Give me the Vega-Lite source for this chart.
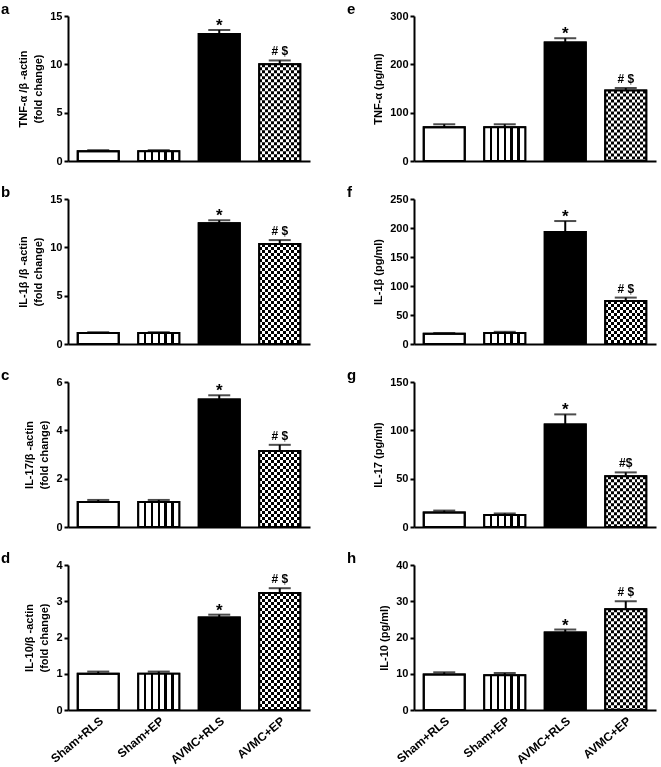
{
"$schema": "https://vega.github.io/schema/vega-lite/v6.json",
"padding": {"left": 1, "top": 2, "right": 5, "bottom": 0},
"background": "white",
"bounds": "flush",
"columns": 2,
"spacing": {"row": 38, "column": 104},
"config": {
  "font": "Liberation Sans",
  "view": {"stroke": null},
  "axis": {"domainColor": "black", "domainWidth": 2, "tickColor": "black", "tickWidth": 2, "tickSize": 4, "labelColor": "black", "labelFontSize": 11, "labelFontWeight": "bold", "titleColor": "black", "titleFontSize": 11, "titleFontWeight": "bold", "grid": false, "titlePadding": 6, "labelPadding": 2, "titleLineHeight": 15},
  "text": {"color": "black"},
  "title": {"color": "black", "font": "Liberation Sans"}
},
"concat": [
{
 "title": {"text": "a", "anchor": "start", "frame": "group", "dx": -67, "offset": -7, "fontSize": 15, "fontWeight": "bold"},
 "width": 242, "height": 145,
 "data": {"values": [
   {"group": "Sham+RLS", "value": 1.0, "hi": 1.12, "label": ""},
   {"group": "Sham+EP", "value": 1.0, "hi": 1.12, "label": ""},
   {"group": "AVMC+RLS", "value": 13.15, "hi": 13.55, "label": "*"},
   {"group": "AVMC+EP", "value": 10.0, "hi": 10.4, "label": "# $"}]},
 "encoding": {
   "x": {"field": "group", "type": "nominal", "sort": null, "scale": {"paddingInner": 0.32, "paddingOuter": 0.16}, "axis": {"labels": false, "ticks": false, "title": null}},
   "y": {"field": "value", "type": "quantitative", "scale": {"domain": [0, 15], "nice": false}, "axis": {"values": [0, 5, 10, 15], "title": ["TNF-α /β -actin", "(fold change)"]}}},
 "layer": [
   {"mark": {"type": "bar", "size": 41, "stroke": "black", "strokeWidth": 2}, "encoding": {"fill": {"condition": {"test": "datum.group==='AVMC+RLS'", "value": "black"}, "value": "white"}}},
   {"transform": [{"filter": "datum.group==='Sham+EP'"}], "mark": {"type": "bar", "size": 41, "fill": {"gradient": "linear", "x1": 0, "y1": 0, "x2": 1, "y2": 0, "stops": [{"offset": 0, "color": "white"}, {"offset": 0.137, "color": "white"}, {"offset": 0.137, "color": "black"}, {"offset": 0.197, "color": "black"}, {"offset": 0.197, "color": "white"}, {"offset": 0.303, "color": "white"}, {"offset": 0.303, "color": "black"}, {"offset": 0.363, "color": "black"}, {"offset": 0.363, "color": "white"}, {"offset": 0.47, "color": "white"}, {"offset": 0.47, "color": "black"}, {"offset": 0.53, "color": "black"}, {"offset": 0.53, "color": "white"}, {"offset": 0.637, "color": "white"}, {"offset": 0.637, "color": "black"}, {"offset": 0.697, "color": "black"}, {"offset": 0.697, "color": "white"}, {"offset": 0.803, "color": "white"}, {"offset": 0.803, "color": "black"}, {"offset": 0.863, "color": "black"}, {"offset": 0.863, "color": "white"}, {"offset": 1, "color": "white"}]}}},
   {"transform": [{"filter": "datum.group==='AVMC+EP'"}], "mark": {"type": "bar", "size": 41, "fill": {"gradient": "linear", "x1": 0, "y1": 0, "x2": 1, "y2": 0, "stops": [{"offset": 0, "color": "black"}, {"offset": 0.0714, "color": "black"}, {"offset": 0.0714, "color": "white"}, {"offset": 0.1429, "color": "white"}, {"offset": 0.1429, "color": "black"}, {"offset": 0.2143, "color": "black"}, {"offset": 0.2143, "color": "white"}, {"offset": 0.2857, "color": "white"}, {"offset": 0.2857, "color": "black"}, {"offset": 0.3571, "color": "black"}, {"offset": 0.3571, "color": "white"}, {"offset": 0.4286, "color": "white"}, {"offset": 0.4286, "color": "black"}, {"offset": 0.5, "color": "black"}, {"offset": 0.5, "color": "white"}, {"offset": 0.5714, "color": "white"}, {"offset": 0.5714, "color": "black"}, {"offset": 0.6429, "color": "black"}, {"offset": 0.6429, "color": "white"}, {"offset": 0.7143, "color": "white"}, {"offset": 0.7143, "color": "black"}, {"offset": 0.7857, "color": "black"}, {"offset": 0.7857, "color": "white"}, {"offset": 0.8571, "color": "white"}, {"offset": 0.8571, "color": "black"}, {"offset": 0.9286, "color": "black"}, {"offset": 0.9286, "color": "white"}, {"offset": 1, "color": "white"}]}}},
   {"transform": [{"filter": "datum.group==='AVMC+EP'"}], "mark": {"type": "rule", "strokeWidth": 41, "strokeDash": [3, 3], "color": "white", "blend": "difference"}, "encoding": {"y2": {"datum": 0}}},
   {"mark": {"type": "bar", "size": 41, "fillOpacity": 0, "stroke": "black", "strokeWidth": 2}},
   {"mark": {"type": "rule", "strokeWidth": 2, "color": "black"}, "encoding": {"y2": {"field": "hi"}}},
   {"mark": {"type": "tick", "orient": "horizontal", "size": 22, "thickness": 2, "color": "black"}, "encoding": {"y": {"field": "hi", "type": "quantitative", "scale": {"domain": [0, 15], "nice": false}}}},
   {"transform": [{"filter": "datum.label==='*'"}], "mark": {"type": "text", "fontSize": 17, "fontWeight": "bold", "baseline": "alphabetic", "dy": 1}, "encoding": {"y": {"field": "hi", "type": "quantitative", "scale": {"domain": [0, 15], "nice": false}}, "text": {"field": "label"}}},
   {"transform": [{"filter": "datum.label!=='*' && datum.label!==''"}], "mark": {"type": "text", "fontSize": 12, "fontWeight": "bold", "baseline": "alphabetic", "dy": -5}, "encoding": {"y": {"field": "hi", "type": "quantitative", "scale": {"domain": [0, 15], "nice": false}}, "text": {"field": "label"}}}
 ]
},
{
 "title": {"text": "e", "anchor": "start", "frame": "group", "dx": -67, "offset": -7, "fontSize": 15, "fontWeight": "bold"},
 "width": 242, "height": 145,
 "data": {"values": [
   {"group": "Sham+RLS", "value": 70, "hi": 76, "label": ""},
   {"group": "Sham+EP", "value": 70, "hi": 76, "label": ""},
   {"group": "AVMC+RLS", "value": 245, "hi": 254, "label": "*"},
   {"group": "AVMC+EP", "value": 146, "hi": 151, "label": "# $"}]},
 "encoding": {
   "x": {"field": "group", "type": "nominal", "sort": null, "scale": {"paddingInner": 0.32, "paddingOuter": 0.16}, "axis": {"labels": false, "ticks": false, "title": null}},
   "y": {"field": "value", "type": "quantitative", "scale": {"domain": [0, 300], "nice": false}, "axis": {"values": [0, 100, 200, 300], "title": "TNF-α  (pg/ml)"}}},
 "layer": [
   {"mark": {"type": "bar", "size": 41, "stroke": "black", "strokeWidth": 2}, "encoding": {"fill": {"condition": {"test": "datum.group==='AVMC+RLS'", "value": "black"}, "value": "white"}}},
   {"transform": [{"filter": "datum.group==='Sham+EP'"}], "mark": {"type": "bar", "size": 41, "fill": {"gradient": "linear", "x1": 0, "y1": 0, "x2": 1, "y2": 0, "stops": [{"offset": 0, "color": "white"}, {"offset": 0.137, "color": "white"}, {"offset": 0.137, "color": "black"}, {"offset": 0.197, "color": "black"}, {"offset": 0.197, "color": "white"}, {"offset": 0.303, "color": "white"}, {"offset": 0.303, "color": "black"}, {"offset": 0.363, "color": "black"}, {"offset": 0.363, "color": "white"}, {"offset": 0.47, "color": "white"}, {"offset": 0.47, "color": "black"}, {"offset": 0.53, "color": "black"}, {"offset": 0.53, "color": "white"}, {"offset": 0.637, "color": "white"}, {"offset": 0.637, "color": "black"}, {"offset": 0.697, "color": "black"}, {"offset": 0.697, "color": "white"}, {"offset": 0.803, "color": "white"}, {"offset": 0.803, "color": "black"}, {"offset": 0.863, "color": "black"}, {"offset": 0.863, "color": "white"}, {"offset": 1, "color": "white"}]}}},
   {"transform": [{"filter": "datum.group==='AVMC+EP'"}], "mark": {"type": "bar", "size": 41, "fill": {"gradient": "linear", "x1": 0, "y1": 0, "x2": 1, "y2": 0, "stops": [{"offset": 0, "color": "black"}, {"offset": 0.0714, "color": "black"}, {"offset": 0.0714, "color": "white"}, {"offset": 0.1429, "color": "white"}, {"offset": 0.1429, "color": "black"}, {"offset": 0.2143, "color": "black"}, {"offset": 0.2143, "color": "white"}, {"offset": 0.2857, "color": "white"}, {"offset": 0.2857, "color": "black"}, {"offset": 0.3571, "color": "black"}, {"offset": 0.3571, "color": "white"}, {"offset": 0.4286, "color": "white"}, {"offset": 0.4286, "color": "black"}, {"offset": 0.5, "color": "black"}, {"offset": 0.5, "color": "white"}, {"offset": 0.5714, "color": "white"}, {"offset": 0.5714, "color": "black"}, {"offset": 0.6429, "color": "black"}, {"offset": 0.6429, "color": "white"}, {"offset": 0.7143, "color": "white"}, {"offset": 0.7143, "color": "black"}, {"offset": 0.7857, "color": "black"}, {"offset": 0.7857, "color": "white"}, {"offset": 0.8571, "color": "white"}, {"offset": 0.8571, "color": "black"}, {"offset": 0.9286, "color": "black"}, {"offset": 0.9286, "color": "white"}, {"offset": 1, "color": "white"}]}}},
   {"transform": [{"filter": "datum.group==='AVMC+EP'"}], "mark": {"type": "rule", "strokeWidth": 41, "strokeDash": [3, 3], "color": "white", "blend": "difference"}, "encoding": {"y2": {"datum": 0}}},
   {"mark": {"type": "bar", "size": 41, "fillOpacity": 0, "stroke": "black", "strokeWidth": 2}},
   {"mark": {"type": "rule", "strokeWidth": 2, "color": "black"}, "encoding": {"y2": {"field": "hi"}}},
   {"mark": {"type": "tick", "orient": "horizontal", "size": 22, "thickness": 2, "color": "black"}, "encoding": {"y": {"field": "hi", "type": "quantitative", "scale": {"domain": [0, 300], "nice": false}}}},
   {"transform": [{"filter": "datum.label==='*'"}], "mark": {"type": "text", "fontSize": 17, "fontWeight": "bold", "baseline": "alphabetic", "dy": 1}, "encoding": {"y": {"field": "hi", "type": "quantitative", "scale": {"domain": [0, 300], "nice": false}}, "text": {"field": "label"}}},
   {"transform": [{"filter": "datum.label!=='*' && datum.label!==''"}], "mark": {"type": "text", "fontSize": 12, "fontWeight": "bold", "baseline": "alphabetic", "dy": -5}, "encoding": {"y": {"field": "hi", "type": "quantitative", "scale": {"domain": [0, 300], "nice": false}}, "text": {"field": "label"}}}
 ]
},
{
 "title": {"text": "b", "anchor": "start", "frame": "group", "dx": -67, "offset": -7, "fontSize": 15, "fontWeight": "bold"},
 "width": 242, "height": 145,
 "data": {"values": [
   {"group": "Sham+RLS", "value": 1.15, "hi": 1.22, "label": ""},
   {"group": "Sham+EP", "value": 1.15, "hi": 1.22, "label": ""},
   {"group": "AVMC+RLS", "value": 12.5, "hi": 12.8, "label": "*"},
   {"group": "AVMC+EP", "value": 10.35, "hi": 10.75, "label": "# $"}]},
 "encoding": {
   "x": {"field": "group", "type": "nominal", "sort": null, "scale": {"paddingInner": 0.32, "paddingOuter": 0.16}, "axis": {"labels": false, "ticks": false, "title": null}},
   "y": {"field": "value", "type": "quantitative", "scale": {"domain": [0, 15], "nice": false}, "axis": {"values": [0, 5, 10, 15], "title": ["IL-1β /β -actin", "(fold change)"]}}},
 "layer": [
   {"mark": {"type": "bar", "size": 41, "stroke": "black", "strokeWidth": 2}, "encoding": {"fill": {"condition": {"test": "datum.group==='AVMC+RLS'", "value": "black"}, "value": "white"}}},
   {"transform": [{"filter": "datum.group==='Sham+EP'"}], "mark": {"type": "bar", "size": 41, "fill": {"gradient": "linear", "x1": 0, "y1": 0, "x2": 1, "y2": 0, "stops": [{"offset": 0, "color": "white"}, {"offset": 0.137, "color": "white"}, {"offset": 0.137, "color": "black"}, {"offset": 0.197, "color": "black"}, {"offset": 0.197, "color": "white"}, {"offset": 0.303, "color": "white"}, {"offset": 0.303, "color": "black"}, {"offset": 0.363, "color": "black"}, {"offset": 0.363, "color": "white"}, {"offset": 0.47, "color": "white"}, {"offset": 0.47, "color": "black"}, {"offset": 0.53, "color": "black"}, {"offset": 0.53, "color": "white"}, {"offset": 0.637, "color": "white"}, {"offset": 0.637, "color": "black"}, {"offset": 0.697, "color": "black"}, {"offset": 0.697, "color": "white"}, {"offset": 0.803, "color": "white"}, {"offset": 0.803, "color": "black"}, {"offset": 0.863, "color": "black"}, {"offset": 0.863, "color": "white"}, {"offset": 1, "color": "white"}]}}},
   {"transform": [{"filter": "datum.group==='AVMC+EP'"}], "mark": {"type": "bar", "size": 41, "fill": {"gradient": "linear", "x1": 0, "y1": 0, "x2": 1, "y2": 0, "stops": [{"offset": 0, "color": "black"}, {"offset": 0.0714, "color": "black"}, {"offset": 0.0714, "color": "white"}, {"offset": 0.1429, "color": "white"}, {"offset": 0.1429, "color": "black"}, {"offset": 0.2143, "color": "black"}, {"offset": 0.2143, "color": "white"}, {"offset": 0.2857, "color": "white"}, {"offset": 0.2857, "color": "black"}, {"offset": 0.3571, "color": "black"}, {"offset": 0.3571, "color": "white"}, {"offset": 0.4286, "color": "white"}, {"offset": 0.4286, "color": "black"}, {"offset": 0.5, "color": "black"}, {"offset": 0.5, "color": "white"}, {"offset": 0.5714, "color": "white"}, {"offset": 0.5714, "color": "black"}, {"offset": 0.6429, "color": "black"}, {"offset": 0.6429, "color": "white"}, {"offset": 0.7143, "color": "white"}, {"offset": 0.7143, "color": "black"}, {"offset": 0.7857, "color": "black"}, {"offset": 0.7857, "color": "white"}, {"offset": 0.8571, "color": "white"}, {"offset": 0.8571, "color": "black"}, {"offset": 0.9286, "color": "black"}, {"offset": 0.9286, "color": "white"}, {"offset": 1, "color": "white"}]}}},
   {"transform": [{"filter": "datum.group==='AVMC+EP'"}], "mark": {"type": "rule", "strokeWidth": 41, "strokeDash": [3, 3], "color": "white", "blend": "difference"}, "encoding": {"y2": {"datum": 0}}},
   {"mark": {"type": "bar", "size": 41, "fillOpacity": 0, "stroke": "black", "strokeWidth": 2}},
   {"mark": {"type": "rule", "strokeWidth": 2, "color": "black"}, "encoding": {"y2": {"field": "hi"}}},
   {"mark": {"type": "tick", "orient": "horizontal", "size": 22, "thickness": 2, "color": "black"}, "encoding": {"y": {"field": "hi", "type": "quantitative", "scale": {"domain": [0, 15], "nice": false}}}},
   {"transform": [{"filter": "datum.label==='*'"}], "mark": {"type": "text", "fontSize": 17, "fontWeight": "bold", "baseline": "alphabetic", "dy": 1}, "encoding": {"y": {"field": "hi", "type": "quantitative", "scale": {"domain": [0, 15], "nice": false}}, "text": {"field": "label"}}},
   {"transform": [{"filter": "datum.label!=='*' && datum.label!==''"}], "mark": {"type": "text", "fontSize": 12, "fontWeight": "bold", "baseline": "alphabetic", "dy": -5}, "encoding": {"y": {"field": "hi", "type": "quantitative", "scale": {"domain": [0, 15], "nice": false}}, "text": {"field": "label"}}}
 ]
},
{
 "title": {"text": "f", "anchor": "start", "frame": "group", "dx": -67, "offset": -7, "fontSize": 15, "fontWeight": "bold"},
 "width": 242, "height": 145,
 "data": {"values": [
   {"group": "Sham+RLS", "value": 17.5, "hi": 19, "label": ""},
   {"group": "Sham+EP", "value": 19, "hi": 21, "label": ""},
   {"group": "AVMC+RLS", "value": 193, "hi": 212, "label": "*"},
   {"group": "AVMC+EP", "value": 74, "hi": 80, "label": "# $"}]},
 "encoding": {
   "x": {"field": "group", "type": "nominal", "sort": null, "scale": {"paddingInner": 0.32, "paddingOuter": 0.16}, "axis": {"labels": false, "ticks": false, "title": null}},
   "y": {"field": "value", "type": "quantitative", "scale": {"domain": [0, 250], "nice": false}, "axis": {"values": [0, 50, 100, 150, 200, 250], "title": "IL-1β  (pg/ml)"}}},
 "layer": [
   {"mark": {"type": "bar", "size": 41, "stroke": "black", "strokeWidth": 2}, "encoding": {"fill": {"condition": {"test": "datum.group==='AVMC+RLS'", "value": "black"}, "value": "white"}}},
   {"transform": [{"filter": "datum.group==='Sham+EP'"}], "mark": {"type": "bar", "size": 41, "fill": {"gradient": "linear", "x1": 0, "y1": 0, "x2": 1, "y2": 0, "stops": [{"offset": 0, "color": "white"}, {"offset": 0.137, "color": "white"}, {"offset": 0.137, "color": "black"}, {"offset": 0.197, "color": "black"}, {"offset": 0.197, "color": "white"}, {"offset": 0.303, "color": "white"}, {"offset": 0.303, "color": "black"}, {"offset": 0.363, "color": "black"}, {"offset": 0.363, "color": "white"}, {"offset": 0.47, "color": "white"}, {"offset": 0.47, "color": "black"}, {"offset": 0.53, "color": "black"}, {"offset": 0.53, "color": "white"}, {"offset": 0.637, "color": "white"}, {"offset": 0.637, "color": "black"}, {"offset": 0.697, "color": "black"}, {"offset": 0.697, "color": "white"}, {"offset": 0.803, "color": "white"}, {"offset": 0.803, "color": "black"}, {"offset": 0.863, "color": "black"}, {"offset": 0.863, "color": "white"}, {"offset": 1, "color": "white"}]}}},
   {"transform": [{"filter": "datum.group==='AVMC+EP'"}], "mark": {"type": "bar", "size": 41, "fill": {"gradient": "linear", "x1": 0, "y1": 0, "x2": 1, "y2": 0, "stops": [{"offset": 0, "color": "black"}, {"offset": 0.0714, "color": "black"}, {"offset": 0.0714, "color": "white"}, {"offset": 0.1429, "color": "white"}, {"offset": 0.1429, "color": "black"}, {"offset": 0.2143, "color": "black"}, {"offset": 0.2143, "color": "white"}, {"offset": 0.2857, "color": "white"}, {"offset": 0.2857, "color": "black"}, {"offset": 0.3571, "color": "black"}, {"offset": 0.3571, "color": "white"}, {"offset": 0.4286, "color": "white"}, {"offset": 0.4286, "color": "black"}, {"offset": 0.5, "color": "black"}, {"offset": 0.5, "color": "white"}, {"offset": 0.5714, "color": "white"}, {"offset": 0.5714, "color": "black"}, {"offset": 0.6429, "color": "black"}, {"offset": 0.6429, "color": "white"}, {"offset": 0.7143, "color": "white"}, {"offset": 0.7143, "color": "black"}, {"offset": 0.7857, "color": "black"}, {"offset": 0.7857, "color": "white"}, {"offset": 0.8571, "color": "white"}, {"offset": 0.8571, "color": "black"}, {"offset": 0.9286, "color": "black"}, {"offset": 0.9286, "color": "white"}, {"offset": 1, "color": "white"}]}}},
   {"transform": [{"filter": "datum.group==='AVMC+EP'"}], "mark": {"type": "rule", "strokeWidth": 41, "strokeDash": [3, 3], "color": "white", "blend": "difference"}, "encoding": {"y2": {"datum": 0}}},
   {"mark": {"type": "bar", "size": 41, "fillOpacity": 0, "stroke": "black", "strokeWidth": 2}},
   {"mark": {"type": "rule", "strokeWidth": 2, "color": "black"}, "encoding": {"y2": {"field": "hi"}}},
   {"mark": {"type": "tick", "orient": "horizontal", "size": 22, "thickness": 2, "color": "black"}, "encoding": {"y": {"field": "hi", "type": "quantitative", "scale": {"domain": [0, 250], "nice": false}}}},
   {"transform": [{"filter": "datum.label==='*'"}], "mark": {"type": "text", "fontSize": 17, "fontWeight": "bold", "baseline": "alphabetic", "dy": 1}, "encoding": {"y": {"field": "hi", "type": "quantitative", "scale": {"domain": [0, 250], "nice": false}}, "text": {"field": "label"}}},
   {"transform": [{"filter": "datum.label!=='*' && datum.label!==''"}], "mark": {"type": "text", "fontSize": 12, "fontWeight": "bold", "baseline": "alphabetic", "dy": -5}, "encoding": {"y": {"field": "hi", "type": "quantitative", "scale": {"domain": [0, 250], "nice": false}}, "text": {"field": "label"}}}
 ]
},
{
 "title": {"text": "c", "anchor": "start", "frame": "group", "dx": -67, "offset": -7, "fontSize": 15, "fontWeight": "bold"},
 "width": 242, "height": 145,
 "data": {"values": [
   {"group": "Sham+RLS", "value": 1.03, "hi": 1.12, "label": ""},
   {"group": "Sham+EP", "value": 1.03, "hi": 1.12, "label": ""},
   {"group": "AVMC+RLS", "value": 5.28, "hi": 5.45, "label": "*"},
   {"group": "AVMC+EP", "value": 3.15, "hi": 3.4, "label": "# $"}]},
 "encoding": {
   "x": {"field": "group", "type": "nominal", "sort": null, "scale": {"paddingInner": 0.32, "paddingOuter": 0.16}, "axis": {"labels": false, "ticks": false, "title": null}},
   "y": {"field": "value", "type": "quantitative", "scale": {"domain": [0, 6], "nice": false}, "axis": {"values": [0, 2, 4, 6], "title": ["IL-17/β -actin", "(fold change)"]}}},
 "layer": [
   {"mark": {"type": "bar", "size": 41, "stroke": "black", "strokeWidth": 2}, "encoding": {"fill": {"condition": {"test": "datum.group==='AVMC+RLS'", "value": "black"}, "value": "white"}}},
   {"transform": [{"filter": "datum.group==='Sham+EP'"}], "mark": {"type": "bar", "size": 41, "fill": {"gradient": "linear", "x1": 0, "y1": 0, "x2": 1, "y2": 0, "stops": [{"offset": 0, "color": "white"}, {"offset": 0.137, "color": "white"}, {"offset": 0.137, "color": "black"}, {"offset": 0.197, "color": "black"}, {"offset": 0.197, "color": "white"}, {"offset": 0.303, "color": "white"}, {"offset": 0.303, "color": "black"}, {"offset": 0.363, "color": "black"}, {"offset": 0.363, "color": "white"}, {"offset": 0.47, "color": "white"}, {"offset": 0.47, "color": "black"}, {"offset": 0.53, "color": "black"}, {"offset": 0.53, "color": "white"}, {"offset": 0.637, "color": "white"}, {"offset": 0.637, "color": "black"}, {"offset": 0.697, "color": "black"}, {"offset": 0.697, "color": "white"}, {"offset": 0.803, "color": "white"}, {"offset": 0.803, "color": "black"}, {"offset": 0.863, "color": "black"}, {"offset": 0.863, "color": "white"}, {"offset": 1, "color": "white"}]}}},
   {"transform": [{"filter": "datum.group==='AVMC+EP'"}], "mark": {"type": "bar", "size": 41, "fill": {"gradient": "linear", "x1": 0, "y1": 0, "x2": 1, "y2": 0, "stops": [{"offset": 0, "color": "black"}, {"offset": 0.0714, "color": "black"}, {"offset": 0.0714, "color": "white"}, {"offset": 0.1429, "color": "white"}, {"offset": 0.1429, "color": "black"}, {"offset": 0.2143, "color": "black"}, {"offset": 0.2143, "color": "white"}, {"offset": 0.2857, "color": "white"}, {"offset": 0.2857, "color": "black"}, {"offset": 0.3571, "color": "black"}, {"offset": 0.3571, "color": "white"}, {"offset": 0.4286, "color": "white"}, {"offset": 0.4286, "color": "black"}, {"offset": 0.5, "color": "black"}, {"offset": 0.5, "color": "white"}, {"offset": 0.5714, "color": "white"}, {"offset": 0.5714, "color": "black"}, {"offset": 0.6429, "color": "black"}, {"offset": 0.6429, "color": "white"}, {"offset": 0.7143, "color": "white"}, {"offset": 0.7143, "color": "black"}, {"offset": 0.7857, "color": "black"}, {"offset": 0.7857, "color": "white"}, {"offset": 0.8571, "color": "white"}, {"offset": 0.8571, "color": "black"}, {"offset": 0.9286, "color": "black"}, {"offset": 0.9286, "color": "white"}, {"offset": 1, "color": "white"}]}}},
   {"transform": [{"filter": "datum.group==='AVMC+EP'"}], "mark": {"type": "rule", "strokeWidth": 41, "strokeDash": [3, 3], "color": "white", "blend": "difference"}, "encoding": {"y2": {"datum": 0}}},
   {"mark": {"type": "bar", "size": 41, "fillOpacity": 0, "stroke": "black", "strokeWidth": 2}},
   {"mark": {"type": "rule", "strokeWidth": 2, "color": "black"}, "encoding": {"y2": {"field": "hi"}}},
   {"mark": {"type": "tick", "orient": "horizontal", "size": 22, "thickness": 2, "color": "black"}, "encoding": {"y": {"field": "hi", "type": "quantitative", "scale": {"domain": [0, 6], "nice": false}}}},
   {"transform": [{"filter": "datum.label==='*'"}], "mark": {"type": "text", "fontSize": 17, "fontWeight": "bold", "baseline": "alphabetic", "dy": 1}, "encoding": {"y": {"field": "hi", "type": "quantitative", "scale": {"domain": [0, 6], "nice": false}}, "text": {"field": "label"}}},
   {"transform": [{"filter": "datum.label!=='*' && datum.label!==''"}], "mark": {"type": "text", "fontSize": 12, "fontWeight": "bold", "baseline": "alphabetic", "dy": -5}, "encoding": {"y": {"field": "hi", "type": "quantitative", "scale": {"domain": [0, 6], "nice": false}}, "text": {"field": "label"}}}
 ]
},
{
 "title": {"text": "g", "anchor": "start", "frame": "group", "dx": -67, "offset": -7, "fontSize": 15, "fontWeight": "bold"},
 "width": 242, "height": 145,
 "data": {"values": [
   {"group": "Sham+RLS", "value": 15, "hi": 17, "label": ""},
   {"group": "Sham+EP", "value": 12.5, "hi": 14, "label": ""},
   {"group": "AVMC+RLS", "value": 106, "hi": 116.5, "label": "*"},
   {"group": "AVMC+EP", "value": 52.5, "hi": 56.5, "label": "#$"}]},
 "encoding": {
   "x": {"field": "group", "type": "nominal", "sort": null, "scale": {"paddingInner": 0.32, "paddingOuter": 0.16}, "axis": {"labels": false, "ticks": false, "title": null}},
   "y": {"field": "value", "type": "quantitative", "scale": {"domain": [0, 150], "nice": false}, "axis": {"values": [0, 50, 100, 150], "title": "IL-17 (pg/ml)"}}},
 "layer": [
   {"mark": {"type": "bar", "size": 41, "stroke": "black", "strokeWidth": 2}, "encoding": {"fill": {"condition": {"test": "datum.group==='AVMC+RLS'", "value": "black"}, "value": "white"}}},
   {"transform": [{"filter": "datum.group==='Sham+EP'"}], "mark": {"type": "bar", "size": 41, "fill": {"gradient": "linear", "x1": 0, "y1": 0, "x2": 1, "y2": 0, "stops": [{"offset": 0, "color": "white"}, {"offset": 0.137, "color": "white"}, {"offset": 0.137, "color": "black"}, {"offset": 0.197, "color": "black"}, {"offset": 0.197, "color": "white"}, {"offset": 0.303, "color": "white"}, {"offset": 0.303, "color": "black"}, {"offset": 0.363, "color": "black"}, {"offset": 0.363, "color": "white"}, {"offset": 0.47, "color": "white"}, {"offset": 0.47, "color": "black"}, {"offset": 0.53, "color": "black"}, {"offset": 0.53, "color": "white"}, {"offset": 0.637, "color": "white"}, {"offset": 0.637, "color": "black"}, {"offset": 0.697, "color": "black"}, {"offset": 0.697, "color": "white"}, {"offset": 0.803, "color": "white"}, {"offset": 0.803, "color": "black"}, {"offset": 0.863, "color": "black"}, {"offset": 0.863, "color": "white"}, {"offset": 1, "color": "white"}]}}},
   {"transform": [{"filter": "datum.group==='AVMC+EP'"}], "mark": {"type": "bar", "size": 41, "fill": {"gradient": "linear", "x1": 0, "y1": 0, "x2": 1, "y2": 0, "stops": [{"offset": 0, "color": "black"}, {"offset": 0.0714, "color": "black"}, {"offset": 0.0714, "color": "white"}, {"offset": 0.1429, "color": "white"}, {"offset": 0.1429, "color": "black"}, {"offset": 0.2143, "color": "black"}, {"offset": 0.2143, "color": "white"}, {"offset": 0.2857, "color": "white"}, {"offset": 0.2857, "color": "black"}, {"offset": 0.3571, "color": "black"}, {"offset": 0.3571, "color": "white"}, {"offset": 0.4286, "color": "white"}, {"offset": 0.4286, "color": "black"}, {"offset": 0.5, "color": "black"}, {"offset": 0.5, "color": "white"}, {"offset": 0.5714, "color": "white"}, {"offset": 0.5714, "color": "black"}, {"offset": 0.6429, "color": "black"}, {"offset": 0.6429, "color": "white"}, {"offset": 0.7143, "color": "white"}, {"offset": 0.7143, "color": "black"}, {"offset": 0.7857, "color": "black"}, {"offset": 0.7857, "color": "white"}, {"offset": 0.8571, "color": "white"}, {"offset": 0.8571, "color": "black"}, {"offset": 0.9286, "color": "black"}, {"offset": 0.9286, "color": "white"}, {"offset": 1, "color": "white"}]}}},
   {"transform": [{"filter": "datum.group==='AVMC+EP'"}], "mark": {"type": "rule", "strokeWidth": 41, "strokeDash": [3, 3], "color": "white", "blend": "difference"}, "encoding": {"y2": {"datum": 0}}},
   {"mark": {"type": "bar", "size": 41, "fillOpacity": 0, "stroke": "black", "strokeWidth": 2}},
   {"mark": {"type": "rule", "strokeWidth": 2, "color": "black"}, "encoding": {"y2": {"field": "hi"}}},
   {"mark": {"type": "tick", "orient": "horizontal", "size": 22, "thickness": 2, "color": "black"}, "encoding": {"y": {"field": "hi", "type": "quantitative", "scale": {"domain": [0, 150], "nice": false}}}},
   {"transform": [{"filter": "datum.label==='*'"}], "mark": {"type": "text", "fontSize": 17, "fontWeight": "bold", "baseline": "alphabetic", "dy": 1}, "encoding": {"y": {"field": "hi", "type": "quantitative", "scale": {"domain": [0, 150], "nice": false}}, "text": {"field": "label"}}},
   {"transform": [{"filter": "datum.label!=='*' && datum.label!==''"}], "mark": {"type": "text", "fontSize": 12, "fontWeight": "bold", "baseline": "alphabetic", "dy": -5}, "encoding": {"y": {"field": "hi", "type": "quantitative", "scale": {"domain": [0, 150], "nice": false}}, "text": {"field": "label"}}}
 ]
},
{
 "title": {"text": "d", "anchor": "start", "frame": "group", "dx": -67, "offset": -7, "fontSize": 15, "fontWeight": "bold"},
 "width": 242, "height": 145,
 "data": {"values": [
   {"group": "Sham+RLS", "value": 1.0, "hi": 1.06, "label": ""},
   {"group": "Sham+EP", "value": 1.0, "hi": 1.06, "label": ""},
   {"group": "AVMC+RLS", "value": 2.55, "hi": 2.63, "label": "*"},
   {"group": "AVMC+EP", "value": 3.23, "hi": 3.36, "label": "# $"}]},
 "encoding": {
   "x": {"field": "group", "type": "nominal", "sort": null, "scale": {"paddingInner": 0.32, "paddingOuter": 0.16}, "axis": {"labels": true, "ticks": false, "title": null, "labelAngle": -40, "labelPadding": 5, "labelFontSize": 12}},
   "y": {"field": "value", "type": "quantitative", "scale": {"domain": [0, 4], "nice": false}, "axis": {"values": [0, 1, 2, 3, 4], "title": ["IL-10/β -actin", "(fold change)"]}}},
 "layer": [
   {"mark": {"type": "bar", "size": 41, "stroke": "black", "strokeWidth": 2}, "encoding": {"fill": {"condition": {"test": "datum.group==='AVMC+RLS'", "value": "black"}, "value": "white"}}},
   {"transform": [{"filter": "datum.group==='Sham+EP'"}], "mark": {"type": "bar", "size": 41, "fill": {"gradient": "linear", "x1": 0, "y1": 0, "x2": 1, "y2": 0, "stops": [{"offset": 0, "color": "white"}, {"offset": 0.137, "color": "white"}, {"offset": 0.137, "color": "black"}, {"offset": 0.197, "color": "black"}, {"offset": 0.197, "color": "white"}, {"offset": 0.303, "color": "white"}, {"offset": 0.303, "color": "black"}, {"offset": 0.363, "color": "black"}, {"offset": 0.363, "color": "white"}, {"offset": 0.47, "color": "white"}, {"offset": 0.47, "color": "black"}, {"offset": 0.53, "color": "black"}, {"offset": 0.53, "color": "white"}, {"offset": 0.637, "color": "white"}, {"offset": 0.637, "color": "black"}, {"offset": 0.697, "color": "black"}, {"offset": 0.697, "color": "white"}, {"offset": 0.803, "color": "white"}, {"offset": 0.803, "color": "black"}, {"offset": 0.863, "color": "black"}, {"offset": 0.863, "color": "white"}, {"offset": 1, "color": "white"}]}}},
   {"transform": [{"filter": "datum.group==='AVMC+EP'"}], "mark": {"type": "bar", "size": 41, "fill": {"gradient": "linear", "x1": 0, "y1": 0, "x2": 1, "y2": 0, "stops": [{"offset": 0, "color": "black"}, {"offset": 0.0714, "color": "black"}, {"offset": 0.0714, "color": "white"}, {"offset": 0.1429, "color": "white"}, {"offset": 0.1429, "color": "black"}, {"offset": 0.2143, "color": "black"}, {"offset": 0.2143, "color": "white"}, {"offset": 0.2857, "color": "white"}, {"offset": 0.2857, "color": "black"}, {"offset": 0.3571, "color": "black"}, {"offset": 0.3571, "color": "white"}, {"offset": 0.4286, "color": "white"}, {"offset": 0.4286, "color": "black"}, {"offset": 0.5, "color": "black"}, {"offset": 0.5, "color": "white"}, {"offset": 0.5714, "color": "white"}, {"offset": 0.5714, "color": "black"}, {"offset": 0.6429, "color": "black"}, {"offset": 0.6429, "color": "white"}, {"offset": 0.7143, "color": "white"}, {"offset": 0.7143, "color": "black"}, {"offset": 0.7857, "color": "black"}, {"offset": 0.7857, "color": "white"}, {"offset": 0.8571, "color": "white"}, {"offset": 0.8571, "color": "black"}, {"offset": 0.9286, "color": "black"}, {"offset": 0.9286, "color": "white"}, {"offset": 1, "color": "white"}]}}},
   {"transform": [{"filter": "datum.group==='AVMC+EP'"}], "mark": {"type": "rule", "strokeWidth": 41, "strokeDash": [3, 3], "color": "white", "blend": "difference"}, "encoding": {"y2": {"datum": 0}}},
   {"mark": {"type": "bar", "size": 41, "fillOpacity": 0, "stroke": "black", "strokeWidth": 2}},
   {"mark": {"type": "rule", "strokeWidth": 2, "color": "black"}, "encoding": {"y2": {"field": "hi"}}},
   {"mark": {"type": "tick", "orient": "horizontal", "size": 22, "thickness": 2, "color": "black"}, "encoding": {"y": {"field": "hi", "type": "quantitative", "scale": {"domain": [0, 4], "nice": false}}}},
   {"transform": [{"filter": "datum.label==='*'"}], "mark": {"type": "text", "fontSize": 17, "fontWeight": "bold", "baseline": "alphabetic", "dy": 1}, "encoding": {"y": {"field": "hi", "type": "quantitative", "scale": {"domain": [0, 4], "nice": false}}, "text": {"field": "label"}}},
   {"transform": [{"filter": "datum.label!=='*' && datum.label!==''"}], "mark": {"type": "text", "fontSize": 12, "fontWeight": "bold", "baseline": "alphabetic", "dy": -5}, "encoding": {"y": {"field": "hi", "type": "quantitative", "scale": {"domain": [0, 4], "nice": false}}, "text": {"field": "label"}}}
 ]
},
{
 "title": {"text": "h", "anchor": "start", "frame": "group", "dx": -67, "offset": -7, "fontSize": 15, "fontWeight": "bold"},
 "width": 242, "height": 145,
 "data": {"values": [
   {"group": "Sham+RLS", "value": 9.8, "hi": 10.4, "label": ""},
   {"group": "Sham+EP", "value": 9.6, "hi": 10.2, "label": ""},
   {"group": "AVMC+RLS", "value": 21.4, "hi": 22.2, "label": "*"},
   {"group": "AVMC+EP", "value": 27.8, "hi": 30, "label": "# $"}]},
 "encoding": {
   "x": {"field": "group", "type": "nominal", "sort": null, "scale": {"paddingInner": 0.32, "paddingOuter": 0.16}, "axis": {"labels": true, "ticks": false, "title": null, "labelAngle": -40, "labelPadding": 5, "labelFontSize": 12}},
   "y": {"field": "value", "type": "quantitative", "scale": {"domain": [0, 40], "nice": false}, "axis": {"values": [0, 10, 20, 30, 40], "title": "IL-10 (pg/ml)"}}},
 "layer": [
   {"mark": {"type": "bar", "size": 41, "stroke": "black", "strokeWidth": 2}, "encoding": {"fill": {"condition": {"test": "datum.group==='AVMC+RLS'", "value": "black"}, "value": "white"}}},
   {"transform": [{"filter": "datum.group==='Sham+EP'"}], "mark": {"type": "bar", "size": 41, "fill": {"gradient": "linear", "x1": 0, "y1": 0, "x2": 1, "y2": 0, "stops": [{"offset": 0, "color": "white"}, {"offset": 0.137, "color": "white"}, {"offset": 0.137, "color": "black"}, {"offset": 0.197, "color": "black"}, {"offset": 0.197, "color": "white"}, {"offset": 0.303, "color": "white"}, {"offset": 0.303, "color": "black"}, {"offset": 0.363, "color": "black"}, {"offset": 0.363, "color": "white"}, {"offset": 0.47, "color": "white"}, {"offset": 0.47, "color": "black"}, {"offset": 0.53, "color": "black"}, {"offset": 0.53, "color": "white"}, {"offset": 0.637, "color": "white"}, {"offset": 0.637, "color": "black"}, {"offset": 0.697, "color": "black"}, {"offset": 0.697, "color": "white"}, {"offset": 0.803, "color": "white"}, {"offset": 0.803, "color": "black"}, {"offset": 0.863, "color": "black"}, {"offset": 0.863, "color": "white"}, {"offset": 1, "color": "white"}]}}},
   {"transform": [{"filter": "datum.group==='AVMC+EP'"}], "mark": {"type": "bar", "size": 41, "fill": {"gradient": "linear", "x1": 0, "y1": 0, "x2": 1, "y2": 0, "stops": [{"offset": 0, "color": "black"}, {"offset": 0.0714, "color": "black"}, {"offset": 0.0714, "color": "white"}, {"offset": 0.1429, "color": "white"}, {"offset": 0.1429, "color": "black"}, {"offset": 0.2143, "color": "black"}, {"offset": 0.2143, "color": "white"}, {"offset": 0.2857, "color": "white"}, {"offset": 0.2857, "color": "black"}, {"offset": 0.3571, "color": "black"}, {"offset": 0.3571, "color": "white"}, {"offset": 0.4286, "color": "white"}, {"offset": 0.4286, "color": "black"}, {"offset": 0.5, "color": "black"}, {"offset": 0.5, "color": "white"}, {"offset": 0.5714, "color": "white"}, {"offset": 0.5714, "color": "black"}, {"offset": 0.6429, "color": "black"}, {"offset": 0.6429, "color": "white"}, {"offset": 0.7143, "color": "white"}, {"offset": 0.7143, "color": "black"}, {"offset": 0.7857, "color": "black"}, {"offset": 0.7857, "color": "white"}, {"offset": 0.8571, "color": "white"}, {"offset": 0.8571, "color": "black"}, {"offset": 0.9286, "color": "black"}, {"offset": 0.9286, "color": "white"}, {"offset": 1, "color": "white"}]}}},
   {"transform": [{"filter": "datum.group==='AVMC+EP'"}], "mark": {"type": "rule", "strokeWidth": 41, "strokeDash": [3, 3], "color": "white", "blend": "difference"}, "encoding": {"y2": {"datum": 0}}},
   {"mark": {"type": "bar", "size": 41, "fillOpacity": 0, "stroke": "black", "strokeWidth": 2}},
   {"mark": {"type": "rule", "strokeWidth": 2, "color": "black"}, "encoding": {"y2": {"field": "hi"}}},
   {"mark": {"type": "tick", "orient": "horizontal", "size": 22, "thickness": 2, "color": "black"}, "encoding": {"y": {"field": "hi", "type": "quantitative", "scale": {"domain": [0, 40], "nice": false}}}},
   {"transform": [{"filter": "datum.label==='*'"}], "mark": {"type": "text", "fontSize": 17, "fontWeight": "bold", "baseline": "alphabetic", "dy": 1}, "encoding": {"y": {"field": "hi", "type": "quantitative", "scale": {"domain": [0, 40], "nice": false}}, "text": {"field": "label"}}},
   {"transform": [{"filter": "datum.label!=='*' && datum.label!==''"}], "mark": {"type": "text", "fontSize": 12, "fontWeight": "bold", "baseline": "alphabetic", "dy": -5}, "encoding": {"y": {"field": "hi", "type": "quantitative", "scale": {"domain": [0, 40], "nice": false}}, "text": {"field": "label"}}}
 ]
}
]
}
